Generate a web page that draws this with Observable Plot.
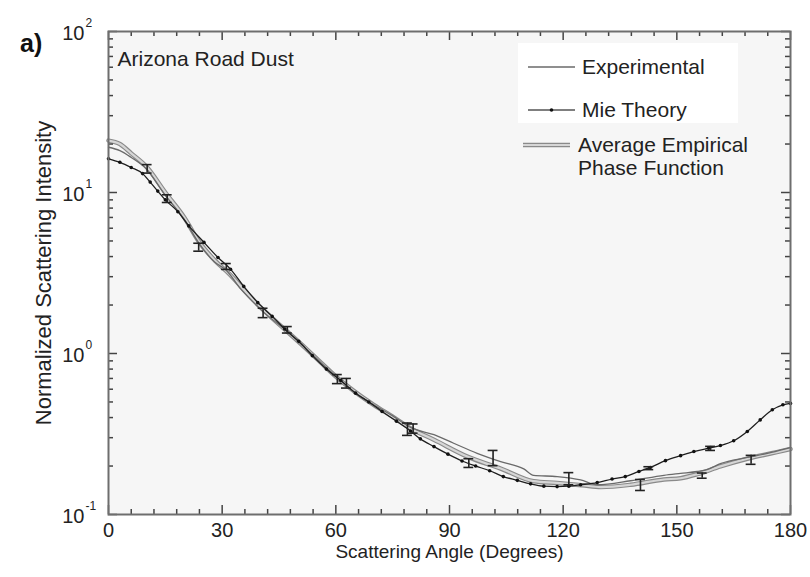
<!DOCTYPE html>
<html>
<head>
<meta charset="utf-8">
<script src="https://cdn.jsdelivr.net/npm/d3@7"></script>
<script src="https://cdn.jsdelivr.net/npm/@observablehq/plot@0.6"></script>
<style>
  body { margin: 0; background: #fff; font-family: "Liberation Sans", Arial, sans-serif; }
  #wrap { position: relative; width: 810px; height: 577px; }
  #panel { position: absolute; left: 20px; top: 29px; font-size: 25px; font-weight: bold; color: #111; }
  #legend { position: absolute; left: 0; top: 0; pointer-events: none; }
</style>
</head>
<body>
<div id="wrap">
  <div id="chart"></div>
  <div id="panel">a)</div>
</div>
<script>
// ---- data ----
const mieAngle = [0, 3, 6, 9, 11, 13, 15, 18.3, 21.2, 25.2, 28.9, 32.2, 35.7, 39.4, 43.2, 46.5, 50.2, 53.8, 57.5, 61.3, 65.2, 68.7, 72.2, 76, 79.7, 82.3, 85.9, 89.6, 93.3, 96.9, 100.6, 104.2, 107.9, 111.4, 114.9, 118.4, 121.5, 124.6, 129, 132.9, 136.4, 140, 143, 147, 151, 154.5, 158.4, 161.5, 165, 168.6, 172, 175.2, 178, 180];
const mieValue = [16.2, 15.4, 14.3, 13.1, 11.6, 10.2, 9.0, 7.6, 6.2, 4.9, 3.95, 3.34, 2.61, 2.07, 1.70, 1.42, 1.19, 0.97, 0.80, 0.68, 0.567, 0.50, 0.436, 0.38, 0.33, 0.295, 0.264, 0.237, 0.215, 0.20, 0.187, 0.172, 0.163, 0.155, 0.150, 0.149, 0.150, 0.153, 0.158, 0.166, 0.172, 0.185, 0.196, 0.216, 0.232, 0.246, 0.258, 0.268, 0.287, 0.328, 0.387, 0.447, 0.48, 0.49];

const expAngle = [0, 3, 6, 10, 15, 20, 24, 28, 31, 35, 40.8, 47, 52, 56, 60.4, 65, 70, 75, 80, 85.9, 91.1, 97.3, 103.5, 109.6, 112.2, 118.4, 124.6, 129, 137.8, 146.6, 151, 155.4, 158, 161.5, 168.6, 175, 180];
const expValue = [19.1, 18.2, 16.5, 14.0, 9.6, 6.8, 4.8, 3.7, 3.3, 2.5, 1.82, 1.38, 1.08, 0.88, 0.71, 0.575, 0.48, 0.41, 0.345, 0.313, 0.277, 0.24, 0.213, 0.192, 0.175, 0.172, 0.164, 0.153, 0.162, 0.175, 0.18, 0.185, 0.19, 0.207, 0.226, 0.243, 0.26];

const avgAngle = [0, 3, 6, 10, 15, 20, 24, 28, 32, 36, 41, 47, 52, 56, 60, 65, 70, 75, 80, 85.9, 94.7, 103.5, 112.2, 118.4, 125, 130, 137.8, 146.6, 151, 155.4, 161.5, 168.6, 175, 180];
const avgValue = [21.0, 20.0, 17.5, 14.5, 10.0, 7.0, 4.9, 3.8, 3.1, 2.45, 1.85, 1.38, 1.08, 0.88, 0.72, 0.58, 0.48, 0.405, 0.34, 0.291, 0.229, 0.193, 0.161, 0.157, 0.152, 0.148, 0.153, 0.165, 0.168, 0.178, 0.199, 0.222, 0.24, 0.255];

const errAngle = [10.2, 15.5, 23.8, 31.1, 40.8, 47.2, 60.4, 62.8, 78.9, 80.4, 95.1, 101.5, 121.5, 140.4, 142.6, 156.7, 158.9, 169.6];
const errLow  = [13.2, 8.67, 4.32, 3.33, 1.67, 1.34, 0.65, 0.61, 0.31, 0.32, 0.196, 0.201, 0.153, 0.141, 0.19, 0.168, 0.25, 0.205];
const errHigh = [14.9, 9.68, 4.84, 3.62, 1.91, 1.47, 0.74, 0.70, 0.37, 0.365, 0.222, 0.25, 0.182, 0.165, 0.198, 0.181, 0.265, 0.233];

const xTicks = [0, 30, 60, 90, 120, 150, 180];
const xMinor = d3.range(0, 181, 6).filter(d => d % 30 !== 0);
const yTicks = [0.1, 1, 10, 100];
const yTickExp = ["-1", "0", "1", "2"];
const yMinor = [2,3,4,5,6,7,8,9].flatMap(m => [0.1, 1, 10].map(p => m * p));

const series = (a, v) => a.map((x, i) => ({angle: x, value: v[i]}));
const mie = series(mieAngle, mieValue);
const exp = series(expAngle, expValue);
const avg = series(avgAngle, avgValue);
const errs = errAngle.map((a, i) => ({angle: a, lo: errLow[i], hi: errHigh[i]}));

const W = 810, H = 577, ML = 108, MR = 20, MT = 31, MB = 63;
const innerW = W - ML - MR, innerH = H - MT - MB;
const X0 = 0, X1 = 180, Y0 = 0.1, Y1 = 100;
const font = "Liberation Sans, Arial, sans-serif";
const axisCol = "#6e6e6e";
const tickStyle = { stroke: "#444", strokeWidth: 1.5 };
// tick lengths in pixels, turned into data units along each axis
const pxPerDecade = innerH / Math.log10(Y1 / Y0);
const yUp = px => Math.pow(10, px / pxPerDecade);
const xSpan = px => px * (X1 - X0) / innerW;
const MAJ = 9, MIN = 5;

// tick segments as rows (same pattern as the error bars)
const xTickRows = [
  ...xTicks.map(a => ({a, y1: Y0, y2: Y0 * yUp(MAJ)})),
  ...xMinor.map(a => ({a, y1: Y0, y2: Y0 * yUp(MIN)})),
  ...xTicks.map(a => ({a, y1: Y1, y2: Y1 / yUp(MAJ)})),
  ...xMinor.map(a => ({a, y1: Y1, y2: Y1 / yUp(MIN)}))
];
const yTickRows = [
  ...yTicks.map(v => ({v, x1: X0, x2: X0 + xSpan(MAJ)})),
  ...yMinor.map(v => ({v, x1: X0, x2: X0 + xSpan(MIN)})),
  ...yTicks.map(v => ({v, x1: X1, x2: X1 - xSpan(MAJ)})),
  ...yMinor.map(v => ({v, x1: X1, x2: X1 - xSpan(MIN)}))
];

const plot = Plot.plot({
  width: W, height: H,
  marginLeft: ML, marginRight: MR, marginTop: MT, marginBottom: MB,
  style: { fontFamily: font, background: "#fff", color: "#222" },
  x: { domain: [X0, X1], axis: null },
  y: { type: "log", domain: [Y0, Y1], axis: null },
  marks: [
    Plot.frame({ fill: "#f6f6f6" }),
    // average empirical phase function (thick light tube)
    Plot.line(avg, { x: "angle", y: "value", stroke: "#8a8a8a", strokeWidth: 4.5, curve: "monotone-x" }),
    Plot.line(avg, { x: "angle", y: "value", stroke: "#d6d6d6", strokeWidth: 2.2, curve: "monotone-x" }),
    // experimental
    Plot.line(exp, { x: "angle", y: "value", stroke: "#6a6a6a", strokeWidth: 1.3, curve: "monotone-x" }),
    // Mie theory
    Plot.line(mie, { x: "angle", y: "value", stroke: "#1e1e1e", strokeWidth: 1.3, curve: "monotone-x" }),
    Plot.dot(mie, { x: "angle", y: "value", r: 1.8, fill: "#111", stroke: null }),
    // error bars
    Plot.ruleX(errs, { x: "angle", y1: "lo", y2: "hi", stroke: "#222", strokeWidth: 1.6 }),
    Plot.ruleY(errs, { y: "lo", x1: d => d.angle - 1.3, x2: d => d.angle + 1.3, stroke: "#222", strokeWidth: 1.6 }),
    Plot.ruleY(errs, { y: "hi", x1: d => d.angle - 1.3, x2: d => d.angle + 1.3, stroke: "#222", strokeWidth: 1.6 }),
    // inward ticks
    Plot.ruleX(xTickRows, { x: "a", y1: "y1", y2: "y2", ...tickStyle }),
    Plot.ruleY(yTickRows, { y: "v", x1: "x1", x2: "x2", ...tickStyle }),
    // frame
    Plot.frame({ stroke: axisCol, strokeWidth: 2 }),
    // tick labels
    Plot.text(xTicks, { x: d => d, frameAnchor: "bottom", dy: 22, text: d => String(d), fontSize: 20, fill: "#222", textAnchor: "middle" }),
    Plot.text(yTicks, { y: d => d, frameAnchor: "left", dx: -24, dy: 2, text: () => "10", textAnchor: "end", fontSize: 20, fill: "#222" }),
    Plot.text(yTicks, { y: d => d, frameAnchor: "left", dx: -23, dy: -8, text: (d, i) => yTickExp[i], textAnchor: "start", fontSize: 12, fill: "#222" }),
    // axis titles
    Plot.text(["Scattering Angle (Degrees)"], { frameAnchor: "bottom", dy: 43, text: d => d, fontSize: 19, fill: "#222", textAnchor: "middle" }),
    Plot.text(["Normalized Scattering Intensity"], { frameAnchor: "left", dx: -65, rotate: -90, text: d => d, fontSize: 22, fill: "#222", textAnchor: "middle" }),
    Plot.text(["Arizona Road Dust"], { frameAnchor: "top-left", dx: 9, dy: 20, text: d => d, textAnchor: "start", fontSize: 21, fill: "#222" })
  ]
});
document.getElementById("chart").appendChild(plot);

// legend overlay
const legendItems = [
  { label: ["Experimental"], y: 67, x1: 528, x2: 575, tx: 582, kind: "exp" },
  { label: ["Mie Theory"], y: 110, x1: 528, x2: 575, tx: 582, kind: "mie" },
  { label: ["Average Empirical", "Phase Function"], y: 145, x1: 523, x2: 570, tx: 578, kind: "avg" }
];
const lg = d3.select("#wrap").append("svg").attr("id", "legend").attr("width", W).attr("height", H)
  .style("font-family", font);
lg.append("rect").attr("x", 518).attr("y", 43).attr("width", 220).attr("height", 80).attr("fill", "#fff");
for (const it of legendItems) {
  if (it.kind === "avg") {
    lg.append("line").attr("x1", it.x1).attr("x2", it.x2).attr("y1", it.y).attr("y2", it.y).attr("stroke", "#8a8a8a").attr("stroke-width", 4.5);
    lg.append("line").attr("x1", it.x1).attr("x2", it.x2).attr("y1", it.y).attr("y2", it.y).attr("stroke", "#d6d6d6").attr("stroke-width", 2.2);
  } else {
    lg.append("line").attr("x1", it.x1).attr("x2", it.x2).attr("y1", it.y).attr("y2", it.y)
      .attr("stroke", it.kind === "mie" ? "#555" : "#6a6a6a").attr("stroke-width", 1.3);
    if (it.kind === "mie") lg.append("circle").attr("cx", (it.x1 + it.x2) / 2).attr("cy", it.y).attr("r", 1.8).attr("fill", "#111");
  }
  it.label.forEach((t, j) => {
    lg.append("text").attr("x", it.tx).attr("y", it.y + j * 23).attr("dy", "0.35em")
      .attr("font-size", 21).attr("fill", "#222").text(t);
  });
}
</script>
</body>
</html>
